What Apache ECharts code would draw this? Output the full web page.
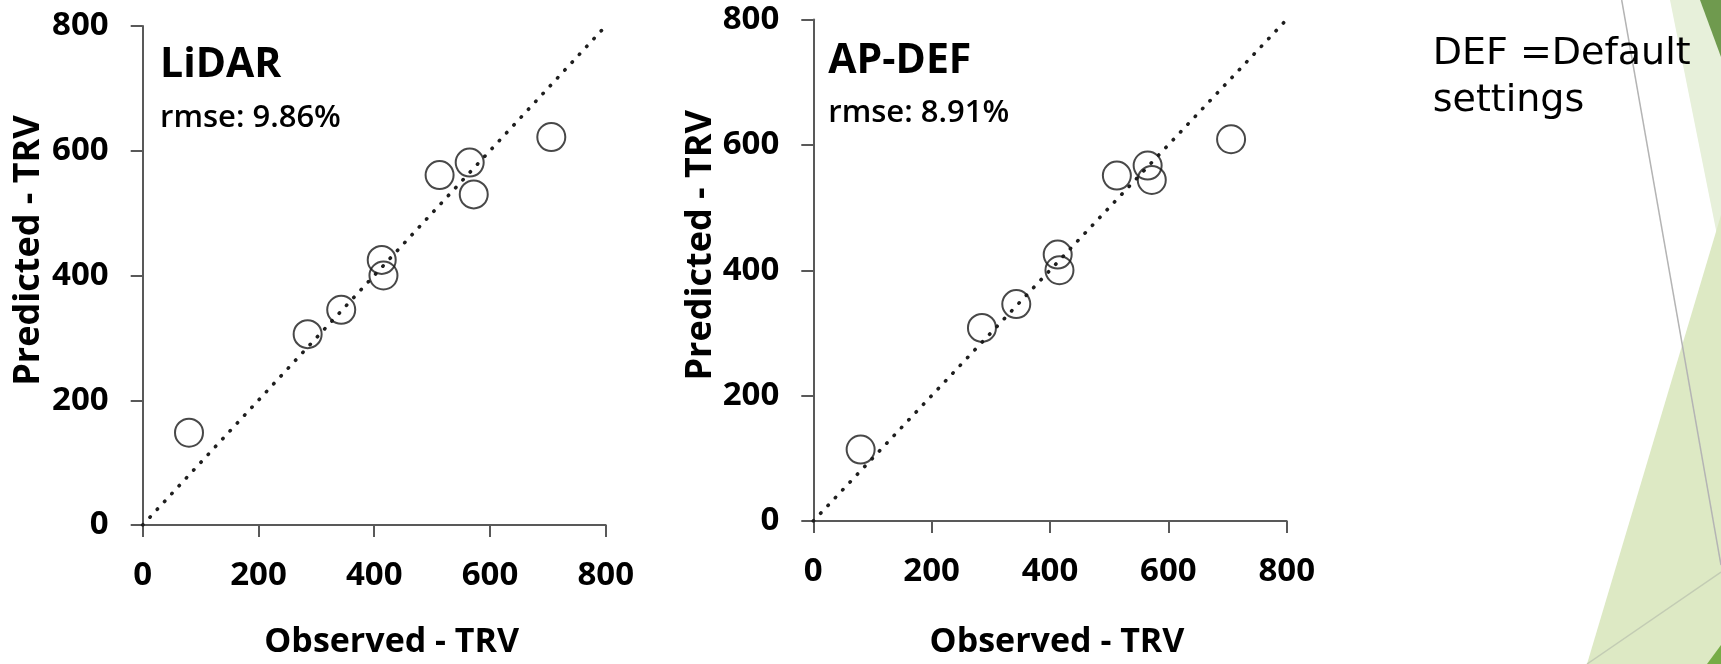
<!DOCTYPE html>
<html>
<head>
<meta charset="utf-8">
<script src="https://cdn.jsdelivr.net/npm/echarts@6/dist/echarts.min.js"></script>
<style>
  html, body { margin: 0; padding: 0; background: #ffffff; }
  #chart { width: 1721px; height: 664px; }
</style>
</head>
<body>
<div id="chart"></div>
<script>
// ---- data ----
const observed   = [80, 285, 343, 413, 416, 513, 565, 572, 706];
const predLidar  = [148, 306, 345, 425, 400, 561, 581, 530, 622];
const predApDef  = [114, 308, 346, 425, 400, 551, 567, 544, 609];
const oneToOne   = [0, 800];
const axisMin = 0, axisMax = 800, axisStep = 200;
const panelNames = ['LiDAR', 'AP-DEF'];
const rmseTexts  = ['rmse: 9.86%', 'rmse: 8.91%'];
const xTitle = 'Observed - TRV';
const yTitle = 'Predicted - TRV';
const noteText = 'DEF =Default\nsettings';

const FONT = '"Open Sans", "Liberation Sans", sans-serif';
const AXIS_COLOR = '#595959';

function pairs(xs, ys) { return xs.map((x, i) => [x, ys[i]]); }

function xAxisCfg(gridIndex, padLeft, gap) {
  return {
    gridIndex, type: 'value', min: axisMin, max: axisMax, interval: axisStep,
    name: xTitle, nameLocation: 'middle', nameGap: gap,
    nameTextStyle: { fontFamily: FONT, fontSize: 34, fontWeight: 'bold', color: '#000', padding: [0, 0, 0, padLeft] },
    axisLine: { show: true, lineStyle: { color: AXIS_COLOR, width: 2 } },
    axisTick: { show: true, length: 12, lineStyle: { color: AXIS_COLOR, width: 2 } },
    axisLabel: { fontFamily: FONT, fontSize: 33, fontWeight: 'bold', color: '#000', margin: 34 },
    splitLine: { show: false }
  };
}
function yAxisCfg(gridIndex, gap) {
  return {
    gridIndex, type: 'value', min: axisMin, max: axisMax, interval: axisStep,
    name: yTitle, nameLocation: 'middle', nameGap: gap,
    nameTextStyle: { fontFamily: FONT, fontSize: 36, fontWeight: 'bold', color: '#000', padding: [0, 0, 0, 50] },
    axisLine: { show: true, lineStyle: { color: AXIS_COLOR, width: 2 } },
    axisTick: { show: true, length: 12, lineStyle: { color: AXIS_COLOR, width: 2 } },
    axisLabel: { fontFamily: FONT, fontSize: 33, fontWeight: 'bold', color: '#000', margin: 34 },
    splitLine: { show: false }
  };
}
function scatterCfg(idx, ys) {
  return {
    type: 'scatter', xAxisIndex: idx, yAxisIndex: idx,
    data: pairs(observed, ys), symbol: 'circle', symbolSize: 28,
    itemStyle: { color: 'rgba(0,0,0,0)', borderColor: '#1a1a1a', borderWidth: 2 },
    z: 3, silent: true
  };
}
function lineCfg(idx) {
  return {
    type: 'line', xAxisIndex: idx, yAxisIndex: idx,
    data: pairs(oneToOne, oneToOne), symbol: 'none', silent: true,
    lineStyle: { color: '#1e1e1e', width: 3.6, type: [0.4, 10.3], cap: 'round' },
    z: 2
  };
}

const chart = echarts.init(document.getElementById('chart'), null, { renderer: 'canvas' });
chart.setOption({
  backgroundColor: '#ffffff',
  animation: false,
  grid: [
    { left: 142.7, top: 26, width: 463, height: 504.7 },
    { left: 813.3, top: 19.5, width: 473.4, height: 504 }
  ],
  xAxis: [ xAxisCfg(0, 35, 100), xAxisCfg(1, 14, 104) ],
  yAxis: [ yAxisCfg(0, 96), yAxisCfg(1, 91) ],
  series: [ lineCfg(0), scatterCfg(0, predLidar), lineCfg(1), scatterCfg(1, predApDef) ],
  graphic: [
    // background decoration (slide theme shapes)
    { type: 'polygon', z: -10, silent: true, shape: { points: [[1670, 0], [1721, 0], [1721, 255]] }, style: { fill: '#e7f0da' } },
    { type: 'polygon', z: -9, silent: true, shape: { points: [[1700, 0], [1721, 0], [1721, 57]] }, style: { fill: '#6f9a4e' } },
    { type: 'polygon', z: -9, silent: true, shape: { points: [[1721, 215], [1587, 664], [1721, 664]] }, style: { fill: '#dde9c4' } },
    { type: 'polygon', z: -8, silent: true, shape: { points: [[1707, 664], [1721, 664], [1721, 645]] }, style: { fill: '#76ac46' } },
    { type: 'line', z: -7, silent: true, shape: { x1: 1621.7, y1: 0, x2: 1721, y2: 565 }, style: { stroke: '#b4b4b4', lineWidth: 1.5 } },
    { type: 'line', z: -7, silent: true, shape: { x1: 1587, y1: 664, x2: 1721, y2: 572 }, style: { stroke: '#c3ccb4', lineWidth: 1.5 } },
    // panel labels
    { type: 'text', x: 160, y: 65, style: { text: panelNames[0], font: 'bold 41px ' + FONT, fill: '#000', verticalAlign: 'middle', align: 'left' } },
    { type: 'text', x: 160, y: 118, style: { text: rmseTexts[0], font: '600 31px ' + FONT, fill: '#000', verticalAlign: 'middle', align: 'left' } },
    { type: 'text', x: 828.3, y: 61, style: { text: panelNames[1], font: 'bold 41px ' + FONT, fill: '#000', verticalAlign: 'middle', align: 'left' } },
    { type: 'text', x: 828.3, y: 113.5, style: { text: rmseTexts[1], font: '600 31px ' + FONT, fill: '#000', verticalAlign: 'middle', align: 'left' } },
    // note
    { type: 'text', x: 1432.7, y: 31, style: { text: noteText, font: '38px "DejaVu Sans", sans-serif', lineHeight: 47, fill: '#000', verticalAlign: 'top', align: 'left' } }
  ]
});
</script>
</body>
</html>
